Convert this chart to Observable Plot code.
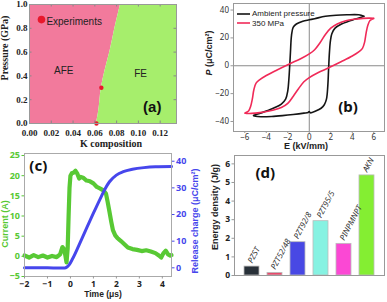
<!DOCTYPE html>
<html><head><meta charset="utf-8">
<script src="https://cdn.jsdelivr.net/npm/d3@7"></script>
<script src="https://cdn.jsdelivr.net/npm/@observablehq/plot@0.6"></script>
<style>
body{margin:0;background:#fff;}
#fig{position:relative;width:387px;height:302px;overflow:hidden;background:#fff;font-family:"Liberation Sans",Arial,sans-serif;}
</style></head><body><div id="fig"></div>
<script>
// ---------- Panel (a): phase diagram ----------
const boundaryP = [0, 0.1, 0.3, 0.45, 0.6, 0.8, 1.0];
const boundaryK = [0.0615, 0.0635, 0.066, 0.0695, 0.0738, 0.0784, 0.0836];
const expK = [0.0615, 0.066];
const expP = [0.0, 0.3];
const kTicks = [0, 0.02, 0.04, 0.06, 0.08, 0.10, 0.12];
const pTicks = [0, 0.2, 0.4, 0.6, 0.8, 1.0];

// ---------- Panel (b): P-E loops ----------
const ambientE = [5.1, 4.6, 3.5, 2.5, 1.5, 0.5, 0, -0.6, -1.2, -1.5, -1.65, -1.75, -1.82, -1.9, -2.0, -2.2, -2.6, -3.2, -4.0, -4.7, -5.2,
                  -5.0, -4.5, -3.5, -2.5, -1.5, -0.5, -0.1, 0, 0.1, 0.6, 1.1, 1.4, 1.6, 1.72, 1.8, 1.88, 1.97, 2.1, 2.4, 3.0, 3.6, 4.3, 4.9, 5.1];
const ambientP = [35.5, 36.6, 36.6, 36.3, 35.5, 33.8, 33, 32, 30, 27.5, 22, 10, 0, -10, -18, -24, -27.5, -30, -32.5, -34.5, -35.7,
                  -36.3, -36.6, -36.4, -35.8, -35.0, -34.0, -33.5, -32.8, -33.8, -32.5, -30.5, -28, -24, -15, -2, 10, 18, 23, 27, 30, 31.8, 33.5, 35.0, 35.5];
const mpaE = [6.0, 5.6, 5.0, 4.2, 3.4, 2.6, 2.0, 1.5, 1.0, 0.5, 0, -0.8, -1.8, -3.0, -4.0, -4.6, -4.95, -5.15, -5.3, -5.45, -5.65, -6.0,
              -5.6, -5.0, -4.2, -3.4, -2.6, -2.0, -1.5, -1.0, -0.5, 0, 0.8, 1.8, 3.0, 4.0, 4.6, 4.95, 5.15, 5.3, 5.45, 5.65, 6.0];
const mpaP = [34, 34.2, 34, 33.4, 32.3, 30, 27, 22.5, 16.5, 11.5, 8.5, 5, 1.5, -3, -7, -10, -12.5, -17, -24, -29, -32.5, -34,
              -34.3, -34, -33.2, -32, -30, -27, -22, -16.5, -11.5, -8.5, -5, -1.5, 3, 7, 10, 12.5, 17, 24, 29, 32.5, 34];
const eTicks = [-6, -4, -2, 0, 2, 4, 6];
const polTicks = [-40, -20, 0, 20, 40];

// ---------- Panel (c): discharge current & charge ----------
const timeI = [-2.0, -1.8, -1.6, -1.4, -1.2, -1.0, -0.8, -0.6, -0.45, -0.35, -0.28, -0.22, -0.17, -0.12, -0.08, -0.04, 0.0, 0.06, 0.15, 0.22, 0.3, 0.38, 0.45, 0.55, 0.7, 0.85, 1.0, 1.15, 1.3, 1.45, 1.55, 1.62, 1.7, 1.78, 1.85, 1.95, 2.05, 2.2, 2.35, 2.5, 2.7, 2.9, 3.1, 3.3, 3.5, 3.7, 3.85, 3.95, 4.05, 4.15, 4.25, 4.35, 4.4];
const currentI = [0.2, -0.3, 0.3, -0.2, 0.2, -0.3, 0.1, -0.2, 0.5, 2.3, 1.8, 0.2, -1.5, 2, 10, 17, 20, 20.6, 20.8, 21.2, 20.5, 19.3, 19.7, 19.5, 18.8, 18.6, 18.1, 17.2, 16.8, 16.3, 15.5, 13.5, 11, 8.5, 6.5, 5.2, 4.5, 3.8, 3.0, 2.2, 1.8, 1.6, 1.3, 1.5, 1.2, 0.8, 0.2, -0.3, 0.8, 1.4, 0.5, 0.2, 0.3];
const timeQ = [-2, -1, -0.5, -0.25, -0.15, -0.05, 0.1, 0.5, 1.0, 1.3, 1.5, 1.7, 2.0, 2.3, 2.7, 3.2, 3.7, 4.4];
const chargeQ = [0, 0, -0.1, -0.1, 0.3, 1.2, 3.5, 11, 20.5, 26, 29.5, 32.3, 34.8, 36.1, 37, 37.6, 37.9, 38];
const timeTicks = [-2, -1, 0, 1, 2, 3, 4];
const currentTicks = [-5, 0, 5, 10, 15, 20, 25];
const chargeTicks = [0, 10, 20, 30, 40];

// ---------- Panel (d): energy density ----------
const materials = ["PZST", "PZT52/48", "PZT92/8", "PZT95/5", "PINPMNPT", "AKN"];
const energy = [0.48, 0.14, 1.79, 2.92, 1.70, 5.38];
const energyTicks = [0, 1, 2, 3, 4, 5, 6];

// ---------- styling ----------
const pink = "#f27a9c", lime = "#a6ee6c", dotRed = "#e8182c";
const black = "#151515", red = "#f02a58";
const green = "#58c934", blue = "#4646ec";
const barColors = ["#283038", "#e84a6c", "#4848e4", "#86f2e2", "#fb48d4", "#84ee32"];
const fig = document.getElementById("fig");
const baseStyle = (left, top, extra = {}) => ({position: "absolute", left: left + "px", top: top + "px", background: "none", overflow: "visible", ...extra});

function addText(svg, x, y, parts, {size = 9, weight = "bold", family = "Liberation Sans, Arial, sans-serif", color = "#222", rotate = 0, anchor = "middle"} = {}) {
  const t = d3.select(svg).append("text")
    .attr("transform", `translate(${x},${y}) rotate(${rotate})`)
    .attr("text-anchor", anchor).attr("dominant-baseline", "middle")
    .attr("font-size", size).attr("font-weight", weight).attr("font-family", family).attr("fill", color);
  (Array.isArray(parts) ? parts : [[parts, {}]]).forEach(([s, o]) => {
    const ts = t.append("tspan").text(s);
    if (o.italic) ts.attr("font-style", "italic");
    if (o.weight) ts.attr("font-weight", o.weight);
  });
  return t;
}

// ===== Panel (a) =====
const bnd = boundaryK.map((k, i) => ({k, p: boundaryP[i]}));
const expData = expK.map((k, i) => ({k, p: expP[i]}));
const aW = 190, aH = 150, aMT = 4, aMB = 27, aML = 29, aMR = 14;
const aInH = aH - aMT - aMB, aInW = aW - aML - aMR;
const serif = "Liberation Serif, Times New Roman, serif";
const svgA = Plot.plot({
  width: aW, height: aH, marginTop: aMT, marginBottom: aMB, marginLeft: aML, marginRight: aMR,
  x: {domain: [0, 0.135]}, y: {domain: [0, 1.0]},
  style: baseStyle(0, 0, {fontFamily: serif}),
  marks: [
    Plot.areaX(bnd, {y: "p", x1: 0, x2: "k", fill: pink, curve: "monotone-y"}),
    Plot.areaX(bnd, {y: "p", x1: "k", x2: 0.135, fill: lime, curve: "monotone-y"}),
    Plot.dot(expData, {x: "k", y: "p", r: 2.2, fill: dotRed}),
    Plot.dot([0], {x: 0.011, y: 0.873, r: 3.8, fill: dotRed}),
    Plot.text(["Experiments"], {x: 0.0155, y: 0.855, text: d => d, textAnchor: "start", fontSize: 10, fontFamily: "Liberation Sans, Arial", fill: "#222"}),
    Plot.text(["AFE"], {x: 0.0315, y: 0.443, text: d => d, fontSize: 10, fontFamily: "Liberation Sans, Arial", fill: "#222"}),
    Plot.text(["FE"], {x: 0.102, y: 0.415, text: d => d, fontSize: 10, fontFamily: "Liberation Sans, Arial", fill: "#222"}),
    Plot.text(["(a)"], {x: 0.1127, y: 0.138, text: d => d, fontSize: 15, fontWeight: "bold", fontFamily: "Liberation Sans, Arial", fill: "#111"}),
    Plot.tickX(kTicks, {x: d => d, insetTop: aInH - 2.5, stroke: "#888"}),
    Plot.tickX(kTicks, {x: d => d, insetBottom: aInH - 2.5, stroke: "#888"}),
    Plot.tickY(pTicks, {y: d => d, insetRight: aInW - 2.5, stroke: "#888"}),
    Plot.tickY(pTicks, {y: d => d, insetLeft: aInW - 2.5, stroke: "#888"}),
    Plot.frame({stroke: "#999"}),
    Plot.axisX(kTicks, {tickSize: 0, tickPadding: 6, tickFormat: d => d.toFixed(2), fontSize: 9, fontWeight: "bold", fontFamily: serif, fill: "#222", label: null}),
    Plot.axisY(pTicks, {tickSize: 0, tickPadding: 2, tickFormat: d => d.toFixed(1), fontSize: 9, fontWeight: "bold", fontFamily: serif, fill: "#222", label: null})
  ]
});
fig.appendChild(svgA);
addText(svgA, 6, 48, "Pressure (GPa)", {size: 10, family: serif, rotate: -90});
addText(svgA, 111, 145, "K composition", {size: 10, family: serif});

// ===== Panel (b) =====
const ambient = ambientE.map((e, i) => ({e, p: ambientP[i]}));
const mpa = mpaE.map((e, i) => ({e, p: mpaP[i]}));
const svgB = Plot.plot({
  width: 197, height: 150, marginTop: 3, marginBottom: 19, marginLeft: 43, marginRight: 3,
  x: {domain: [-7.05, 7.0]}, y: {domain: [-47.2, 44.7]},
  style: baseStyle(190, 0),
  marks: [
    Plot.ruleX([0], {stroke: "#8a8a8a", strokeWidth: 1}),
    Plot.ruleY([0], {stroke: "#8a8a8a", strokeWidth: 1}),
    Plot.line(ambient, {x: "e", y: "p", stroke: black, strokeWidth: 1.6, curve: "catmull-rom"}),
    Plot.line(mpa, {x: "e", y: "p", stroke: red, strokeWidth: 1.6, curve: "catmull-rom"}),
    Plot.frame({stroke: "#999"}),
    Plot.axisX(eTicks, {tickSize: 2, tickPadding: 0.5, fontSize: 8, fill: "#333", stroke: "#999", label: null}),
    Plot.axisY(polTicks, {tickSize: 2.5, tickPadding: 2, fontSize: 8, fill: "#333", stroke: "#999", label: null}),
    Plot.text(["(b)"], {x: 3.6, y: -29.5, text: d => d, fontSize: 15, fontWeight: "bold", fill: "#111"})
  ]
});
fig.appendChild(svgB);
{
  const g = d3.select(svgB).append("g");
  g.append("line").attr("x1", 47).attr("x2", 60).attr("y1", 14).attr("y2", 14).attr("stroke", black).attr("stroke-width", 1.6);
  g.append("line").attr("x1", 47).attr("x2", 60).attr("y1", 23).attr("y2", 23).attr("stroke", red).attr("stroke-width", 1.6);
  addText(svgB, 62, 14, "Ambient pressure", {size: 8, weight: "normal", anchor: "start"});
  addText(svgB, 62, 23.5, "350 MPa", {size: 8, weight: "normal", anchor: "start"});
  addText(svgB, 20, 53, [["P", {italic: true}], [" (μC/cm²)", {}]], {size: 9, rotate: -90});
  addText(svgB, 116, 146.5, "E (kV/mm)", {size: 9});
}

// ===== Panel (c) =====
const cDom = [-5, 25.5], qDom = [-3.26, 42.9];
const toLeft = q => cDom[0] + (q - qDom[0]) * (cDom[1] - cDom[0]) / (qDom[1] - qDom[0]);
const fromLeft = v => qDom[0] + (v - cDom[0]) * (qDom[1] - qDom[0]) / (cDom[1] - cDom[0]);
const curr = timeI.map((t, i) => ({t, v: currentI[i]}));
const chg = timeQ.map((t, i) => ({t, v: toLeft(chargeQ[i])}));
const svgC = Plot.plot({
  width: 200, height: 152, marginTop: 3, marginBottom: 26, marginLeft: 24, marginRight: 29,
  x: {domain: [-2, 4.4]}, y: {domain: cDom},
  style: baseStyle(0, 150),
  marks: [
    Plot.line(curr, {x: "t", y: "v", stroke: green, strokeWidth: 4.2, curve: "linear"}),
    Plot.line(chg, {x: "t", y: "v", stroke: blue, strokeWidth: 3, curve: "monotone-x"}),
    Plot.frame({stroke: "#aaa"}),
    Plot.axisX(timeTicks, {tickSize: 2.5, tickPadding: 2, fontSize: 8.5, fontWeight: "bold", fill: "#222", stroke: "#999", label: null}),
    Plot.axisY(currentTicks, {anchor: "left", tickSize: 2.5, tickPadding: 2, fontSize: 9, fontWeight: "bold", fill: green, stroke: green, label: null}),
    Plot.axisY(chargeTicks.map(toLeft), {anchor: "right", tickSize: 2.5, tickPadding: 2, tickFormat: v => String(Math.round(fromLeft(v))), fontSize: 9, fontWeight: "bold", fill: blue, stroke: blue, label: null}),
    Plot.text(["(c)"], {x: -1.4, y: 22.3, text: d => d, fontSize: 15, fontWeight: "bold", fill: "#111"})
  ]
});
fig.appendChild(svgC);
addText(svgC, 6, 74, "Current (A)", {size: 9, color: green, rotate: -90});
addText(svgC, 196, 71, "Release charge (μC/cm²)", {size: 9, color: blue, rotate: -90});
addText(svgC, 103, 145, "Time (μs)", {size: 8.5});

// ===== Panel (d) =====
const bars = materials.map((m, i) => ({m, v: energy[i]}));
const svgD = Plot.plot({
  width: 197, height: 152, marginTop: 5, marginBottom: 27, marginLeft: 44, marginRight: 3,
  x: {domain: materials, paddingInner: 0.33, paddingOuter: 0.41, axis: null},
  y: {domain: [0, 6.45]},
  color: {domain: materials, range: barColors},
  style: baseStyle(190, 150),
  marks: [
    Plot.barY(bars, {x: "m", y: "v", fill: "m", stroke: "#bbb", strokeWidth: 0.8}),
    Plot.text(bars, {x: "m", y: "v", text: "m", rotate: -62, textAnchor: "start", dx: -2, dy: -4, fontSize: 8, fontStyle: "italic", fill: "#333"}),
    Plot.frame({stroke: "#999"}),
    Plot.axisY(energyTicks, {tickSize: 2.5, tickPadding: 2, fontSize: 8.5, fontWeight: "bold", fill: "#222", stroke: "#999", label: null}),
    Plot.text(["(d)"], {frameAnchor: "top-left", dx: 21, dy: 12, text: d => d, fontSize: 15, fontWeight: "bold", fill: "#111"})
  ]
});
fig.appendChild(svgD);
addText(svgD, 26, 57, "Energy density (J/g)", {size: 9, rotate: -90});
</script></body></html>
